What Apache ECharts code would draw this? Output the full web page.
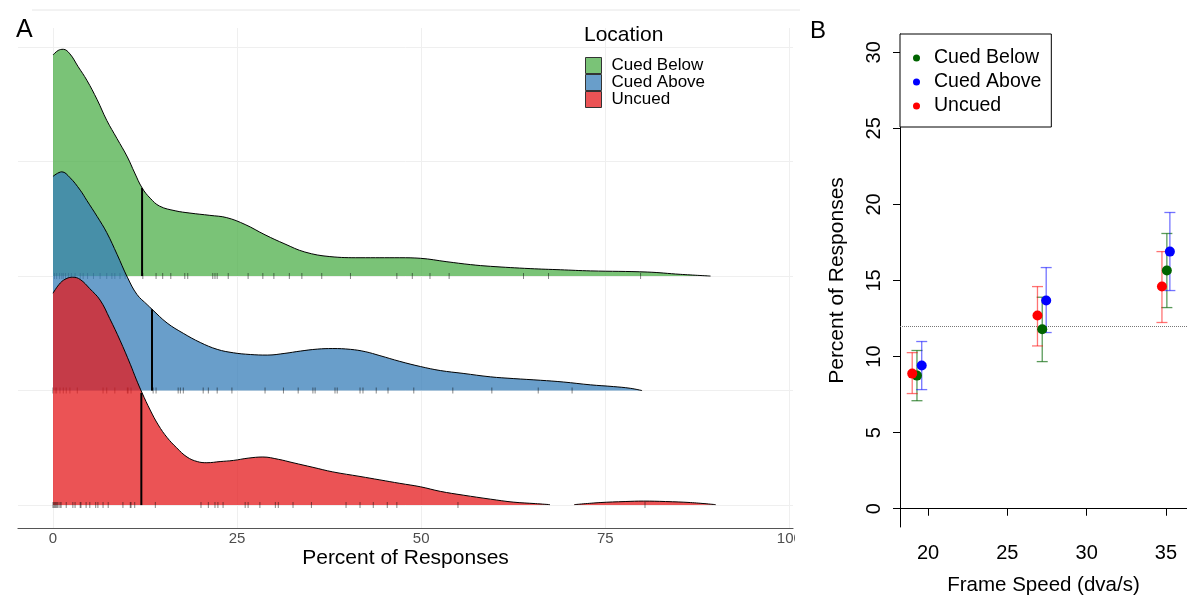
<!DOCTYPE html>
<html>
<head>
<meta charset="utf-8">
<script src="https://cdn.jsdelivr.net/npm/echarts@6/dist/echarts.min.js"></script>
<style>
    html, body { margin: 0; padding: 0; background: #fff; }
    #main { width: 1187px; height: 597px; }
</style>
</head>
<body>
<div id="main"></div>
<script>
const groups = ['Cued Below', 'Cued Above', 'Uncued']

// ---- panel A: ridgeline densities ----
// baseline of each ridge on the (hidden) y axis, and heights above it
const ridgeBase = [3, 2, 1]

const belowX = [0, 0.7, 1.4, 2.3, 3.4, 4.6, 6.0, 7.3, 8.7, 10.1, 11.1, 12.1, 13.2, 14.5, 16.6, 18.6, 21.3, 23.6, 26.1, 28.8, 31.5, 34.2, 37.6, 41.7, 47.1, 49.9, 53.5, 56.7, 59.4, 64.8, 68.9, 73.0, 80.7, 85.2, 89.3]
const belowH = [1.93, 1.97, 1.98, 1.94, 1.83, 1.71, 1.54, 1.36, 1.20, 1.04, 0.90, 0.77, 0.68, 0.61, 0.57, 0.55, 0.53, 0.51, 0.45, 0.36, 0.28, 0.21, 0.17, 0.16, 0.16, 0.155, 0.125, 0.10, 0.085, 0.065, 0.055, 0.045, 0.035, 0.015, 0]

const aboveX = [0, 1.2, 2.3, 3.7, 4.6, 6.0, 7.3, 8.7, 10.1, 11.4, 12.8, 13.45, 15.5, 17.7, 20.0, 22.3, 24.5, 26.8, 29.1, 31.5, 33.6, 35.9, 38.0, 40.4, 42.4, 44.4, 47.1, 49.9, 52.6, 55.7, 59.4, 62.5, 66.2, 69.3, 73.0, 76.1, 78.4, 80.0]
const aboveH = [1.87, 1.91, 1.86, 1.75, 1.66, 1.52, 1.38, 1.19, 0.99, 0.84, 0.75, 0.71, 0.59, 0.50, 0.42, 0.36, 0.33, 0.315, 0.31, 0.325, 0.345, 0.362, 0.367, 0.36, 0.34, 0.305, 0.255, 0.21, 0.175, 0.15, 0.12, 0.105, 0.09, 0.075, 0.05, 0.035, 0.02, 0]

// null = gap in the density (the curve drops out between ~68 and ~71)
const uncuedX = [0, 1.0, 1.9, 2.7, 3.7, 5.0, 6.4, 7.7, 9.1, 10.5, 11.3, 12.1, 13.2, 14.3, 15.5, 16.8, 18.2, 19.6, 20.9, 22.7, 24.5, 26.5, 28.5, 30.6, 32.6, 35.3, 38.0, 41.7, 44.4, 47.1, 49.9, 52.6, 55.7, 59.4, 62.5, 65.5, 67.5, 69.2, 70.8, 74.3, 77.7, 80.2, 83.2, 86.6, 90.0]
const uncuedH = [1.85, 1.94, 1.98, 1.99, 1.97, 1.89, 1.79, 1.63, 1.44, 1.23, 1.10, 0.98, 0.83, 0.70, 0.59, 0.50, 0.42, 0.38, 0.37, 0.38, 0.39, 0.41, 0.42, 0.40, 0.37, 0.33, 0.29, 0.25, 0.22, 0.19, 0.16, 0.12, 0.087, 0.052, 0.026, 0.013, 0.004, null, 0.004, 0.022, 0.031, 0.035, 0.031, 0.022, 0.004]

const medians = [12.1, 13.45, 12.0]
const medianH = [0.77, 0.71, 0.98]

const belowRug = [0.2, 0.5, 0.9, 1.2, 1.4, 1.7, 2.1, 2.5, 3, 3.7, 4.1, 4.7, 5.5, 6.4, 7.3, 8, 8.4, 9.1, 9.8, 12.2, 14, 14.9, 16, 17.9, 18.3, 21.7, 22, 22.3, 23.8, 26.5, 28.5, 30, 32.1, 33.8, 36.5, 40.4, 46.7, 48.8, 51.2, 53.8, 63.9, 67.3, 79.8]
const aboveRug = [0, 0.3, 0.5, 0.95, 1.4, 1.8, 2.3, 3.3, 6.8, 7.3, 8.4, 10.1, 10.2, 10.6, 13.6, 14, 17, 17.3, 17.7, 20.4, 21.1, 22.3, 24.3, 28.8, 31.3, 33.3, 35.3, 35.6, 38.3, 38.6, 41.7, 42.1, 43.9, 45.5, 49, 54.3, 59.6, 65.9, 70.5]
const uncuedRug = [0, 0.14, 0.27, 0.4, 0.54, 0.68, 0.95, 1.1, 1.8, 2.7, 3, 3.7, 3.8, 4.5, 5, 5.8, 6.1, 6.8, 7.5, 9.5, 10.5, 10.6, 11.1, 13.9, 20.1, 21.1, 22, 22.4, 23.1, 26.1, 26.5, 28.1, 30.2, 30.6, 32.6, 35.1, 39.8, 41.7, 43.5, 45.4, 46.7, 55, 80.4]

const percentTicks = [0, 25, 50, 75, 100]
const ridgeGridY = [1, 2, 3, 4, 5]

// ---- panel B: means with error bars ----
const speedTicks = [20, 25, 30, 35]
const pctTicks = [0, 5, 10, 15, 20, 25, 30]
const chanceLevel = 12

const belowSpeed = [19.3, 27.2, 35.06]
const belowMean = [8.75, 11.8, 15.66]
const belowLo = [7.1, 9.67, 13.22]
const belowHi = [10.4, 13.9, 18.09]

const aboveSpeed = [19.6, 27.45, 35.25]
const aboveMean = [9.41, 13.68, 16.9]
const aboveLo = [7.83, 11.58, 14.34]
const aboveHi = [10.99, 15.85, 19.47]

const uncuedSpeed = [19.0, 26.9, 34.75]
const uncuedMean = [8.88, 12.7, 14.6]
const uncuedLo = [7.57, 10.7, 12.24]
const uncuedHi = [10.26, 14.6, 16.9]

const ridgeFill = ['rgba(77,175,74,0.75)', 'rgba(55,126,184,0.75)', 'rgba(228,26,28,0.75)']
const dotColor = ['#006400', '#0000ff', '#ff0000']
const barColor = ['rgba(0,100,0,0.65)', 'rgba(0,0,255,0.55)', 'rgba(255,0,0,0.55)']

const FONT = '"Liberation Sans", Arial, sans-serif'

const ridges = [
    [belowX, belowH, belowRug],
    [aboveX, aboveH, aboveRug],
    [uncuedX, uncuedH, uncuedRug],
]
const points = [
    [belowSpeed, belowMean, belowLo, belowHi],
    [aboveSpeed, aboveMean, aboveLo, aboveHi],
    [uncuedSpeed, uncuedMean, uncuedLo, uncuedHi],
]

const series = []

// faint grid lines of panel A (kept under the ridges)
series.push({
    type: 'line',
    xAxisIndex: 0,
    yAxisIndex: 0,
    z: 1,
    silent: true,
    data: [],
    markLine: {
        silent: true,
        z: 1,
        symbol: ['none', 'none'],
        label: { show: false },
        lineStyle: { color: '#efefef', width: 1, type: 'solid' },
        data: percentTicks.map(v => ({ xAxis: v })).concat(ridgeGridY.map(v => ({ yAxis: v }))),
    },
})

ridges.forEach(([xs, hs, rug], i) => {
    const base = ridgeBase[i]
    const z = 10 + i
    series.push({
        name: groups[i],
        type: 'line',
        xAxisIndex: 0,
        yAxisIndex: 0,
        z: z,
        smooth: 0.4,
        showSymbol: false,
        connectNulls: false,
        lineStyle: { color: '#000', width: 1 },
        itemStyle: { color: ridgeFill[i] },
        areaStyle: { color: ridgeFill[i], opacity: 1, origin: base },
        data: xs.map((x, j) => (hs[j] == null ? [x, '-'] : [x, base + hs[j]])),
    })
    series.push({
        type: 'line',
        xAxisIndex: 0,
        yAxisIndex: 0,
        z: z,
        showSymbol: false,
        lineStyle: { color: '#000', width: 2 },
        data: [[medians[i], base], [medians[i], base + medianH[i]]],
    })
    series.push({
        type: 'scatter',
        xAxisIndex: 0,
        yAxisIndex: 0,
        z: z,
        symbol: 'rect',
        symbolSize: [1, 6],
        itemStyle: { color: 'rgba(0,0,0,0.6)' },
        data: rug.map(v => [v, base]),
    })
})

// chance line in panel B
series.push({
    type: 'line',
    xAxisIndex: 1,
    yAxisIndex: 1,
    data: [],
    markLine: {
        silent: true,
        z: 3,
        symbol: ['none', 'none'],
        label: { show: false },
        lineStyle: { color: '#777', width: 1, type: 'dotted' },
        data: [{ yAxis: chanceLevel }],
    },
})

points.forEach(([xs, ms, lo, hi], i) => {
    series.push({
        type: 'custom',
        xAxisIndex: 1,
        yAxisIndex: 1,
        z: 5,
        encode: { x: 0, y: [1, 2] },
        renderItem: (params, api) => {
            const x = api.value(0)
            const a = api.coord([x, api.value(1)])
            const b = api.coord([x, api.value(2)])
            const w = 5.5
            const style = { stroke: barColor[i], lineWidth: 1.3 }
            return {
                type: 'group',
                children: [
                    { type: 'line', shape: { x1: a[0], y1: a[1], x2: b[0], y2: b[1] }, style },
                    { type: 'line', shape: { x1: a[0] - w, y1: a[1], x2: a[0] + w, y2: a[1] }, style },
                    { type: 'line', shape: { x1: b[0] - w, y1: b[1], x2: b[0] + w, y2: b[1] }, style },
                ],
            }
        },
        data: xs.map((x, j) => [x, lo[j], hi[j]]),
    })
    series.push({
        name: groups[i],
        type: 'scatter',
        xAxisIndex: 1,
        yAxisIndex: 1,
        z: 6,
        symbolSize: 10,
        itemStyle: { color: dotColor[i], opacity: 1 },
        data: xs.map((x, j) => [x, ms[j]]),
    })
})

const option = {
    animation: false,
    backgroundColor: '#fff',
    textStyle: { fontFamily: FONT },
    title: [
        { text: 'A', left: 11, top: 13, textStyle: { fontSize: 25, fontWeight: 'normal', color: '#000', fontFamily: FONT } },
        { text: 'B', left: 805, top: 14, textStyle: { fontSize: 24, fontWeight: 'normal', color: '#000', fontFamily: FONT } },
        { text: 'Location', left: 584, top: 25, padding: 0, textStyle: { fontSize: 21, fontWeight: 'normal', color: '#000', fontFamily: FONT } },
    ],
    legend: [
        {
            orient: 'vertical',
            left: 585,
            top: 57,
            padding: 0,
            itemGap: 0,
            itemWidth: 16,
            itemHeight: 16,
            selectedMode: false,
            textStyle: { fontSize: 17, lineHeight: 16, color: '#000', padding: [0, 0, 0, 5], fontFamily: FONT },
            data: groups.map((g, i) => ({
                name: g,
                icon: 'rect',
                itemStyle: { color: ridgeFill[i], borderColor: '#333', borderWidth: 1 },
            })),
        },
        {
            orient: 'vertical',
            left: 900,
            top: 34,
            padding: [14, 10, 11, 13],
            itemGap: 4,
            itemWidth: 7,
            itemHeight: 7,
            selectedMode: false,
            borderColor: '#000',
            borderWidth: 1,
            borderRadius: 0,
            backgroundColor: '#fff',
            textStyle: { fontSize: 19.5, lineHeight: 20, color: '#000', padding: [0, 0, 0, 9], fontFamily: FONT },
            data: groups.map((g, i) => ({
                name: g,
                icon: 'circle',
                itemStyle: { color: dotColor[i], borderWidth: 0 },
            })),
        },
    ],
    grid: [
        { left: 18, top: 28, width: 775, height: 500, outerBoundsMode: 'none' },
        { left: 900, top: 34, width: 287, height: 493, outerBoundsMode: 'none' },
    ],
    xAxis: [
        {
            gridIndex: 0,
            type: 'value',
            min: -4.75,
            max: 100.5,
            name: 'Percent of Responses',
            nameLocation: 'middle',
            nameGap: 20,
            nameMoveOverlap: false,
            nameTextStyle: { fontSize: 21, color: '#000', fontFamily: FONT },
            axisLine: { show: true, lineStyle: { color: '#555', width: 1.2 } },
            axisTick: { show: false },
            axisLabel: { customValues: percentTicks, fontSize: 15, color: '#4d4d4d', margin: 3, fontFamily: FONT },
            splitLine: { show: false },
        },
        {
            gridIndex: 1,
            type: 'value',
            min: 18.23,
            max: 36.33,
            name: 'Frame Speed (dva/s)',
            nameLocation: 'middle',
            nameGap: 48,
            nameMoveOverlap: false,
            nameTextStyle: { fontSize: 20.5, color: '#000', fontFamily: FONT },
            axisLine: { show: true, lineStyle: { color: '#000', width: 1 } },
            axisTick: { show: true, customValues: speedTicks, length: 7, lineStyle: { color: '#000' } },
            axisLabel: { customValues: speedTicks, fontSize: 20, color: '#000', margin: 16, fontFamily: FONT },
            splitLine: { show: false },
        },
    ],
    yAxis: [
        {
            gridIndex: 0,
            type: 'value',
            min: 0.8,
            max: 5.166,
            show: false,
            splitLine: { show: false },
        },
        {
            gridIndex: 1,
            type: 'value',
            min: -1.2,
            max: 31.2,
            name: 'Percent of Responses',
            nameLocation: 'middle',
            nameGap: 52,
            nameMoveOverlap: false,
            nameTextStyle: { fontSize: 21, color: '#000', fontFamily: FONT },
            axisLine: { show: true, lineStyle: { color: '#000', width: 1 } },
            axisTick: { show: true, customValues: pctTicks, length: 7, lineStyle: { color: '#000' } },
            axisLabel: { customValues: pctTicks, rotate: 90, fontSize: 20, color: '#000', margin: 16, fontFamily: FONT },
            splitLine: { show: false },
        },
    ],
    graphic: [
        // thin rule at the top of panel A
        { type: 'line', shape: { x1: 32, y1: 10, x2: 800, y2: 10 }, style: { stroke: '#e6e6e6', lineWidth: 1 }, silent: true },
        // panel A is cut off at its right edge
        { type: 'rect', shape: { x: 795, y: 529, width: 12, height: 22 }, style: { fill: '#fff' }, z: 100, silent: true },
    ],
    series: series,
}

const chart = echarts.init(document.getElementById('main'))
chart.setOption(option)
</script>
</body>
</html>
